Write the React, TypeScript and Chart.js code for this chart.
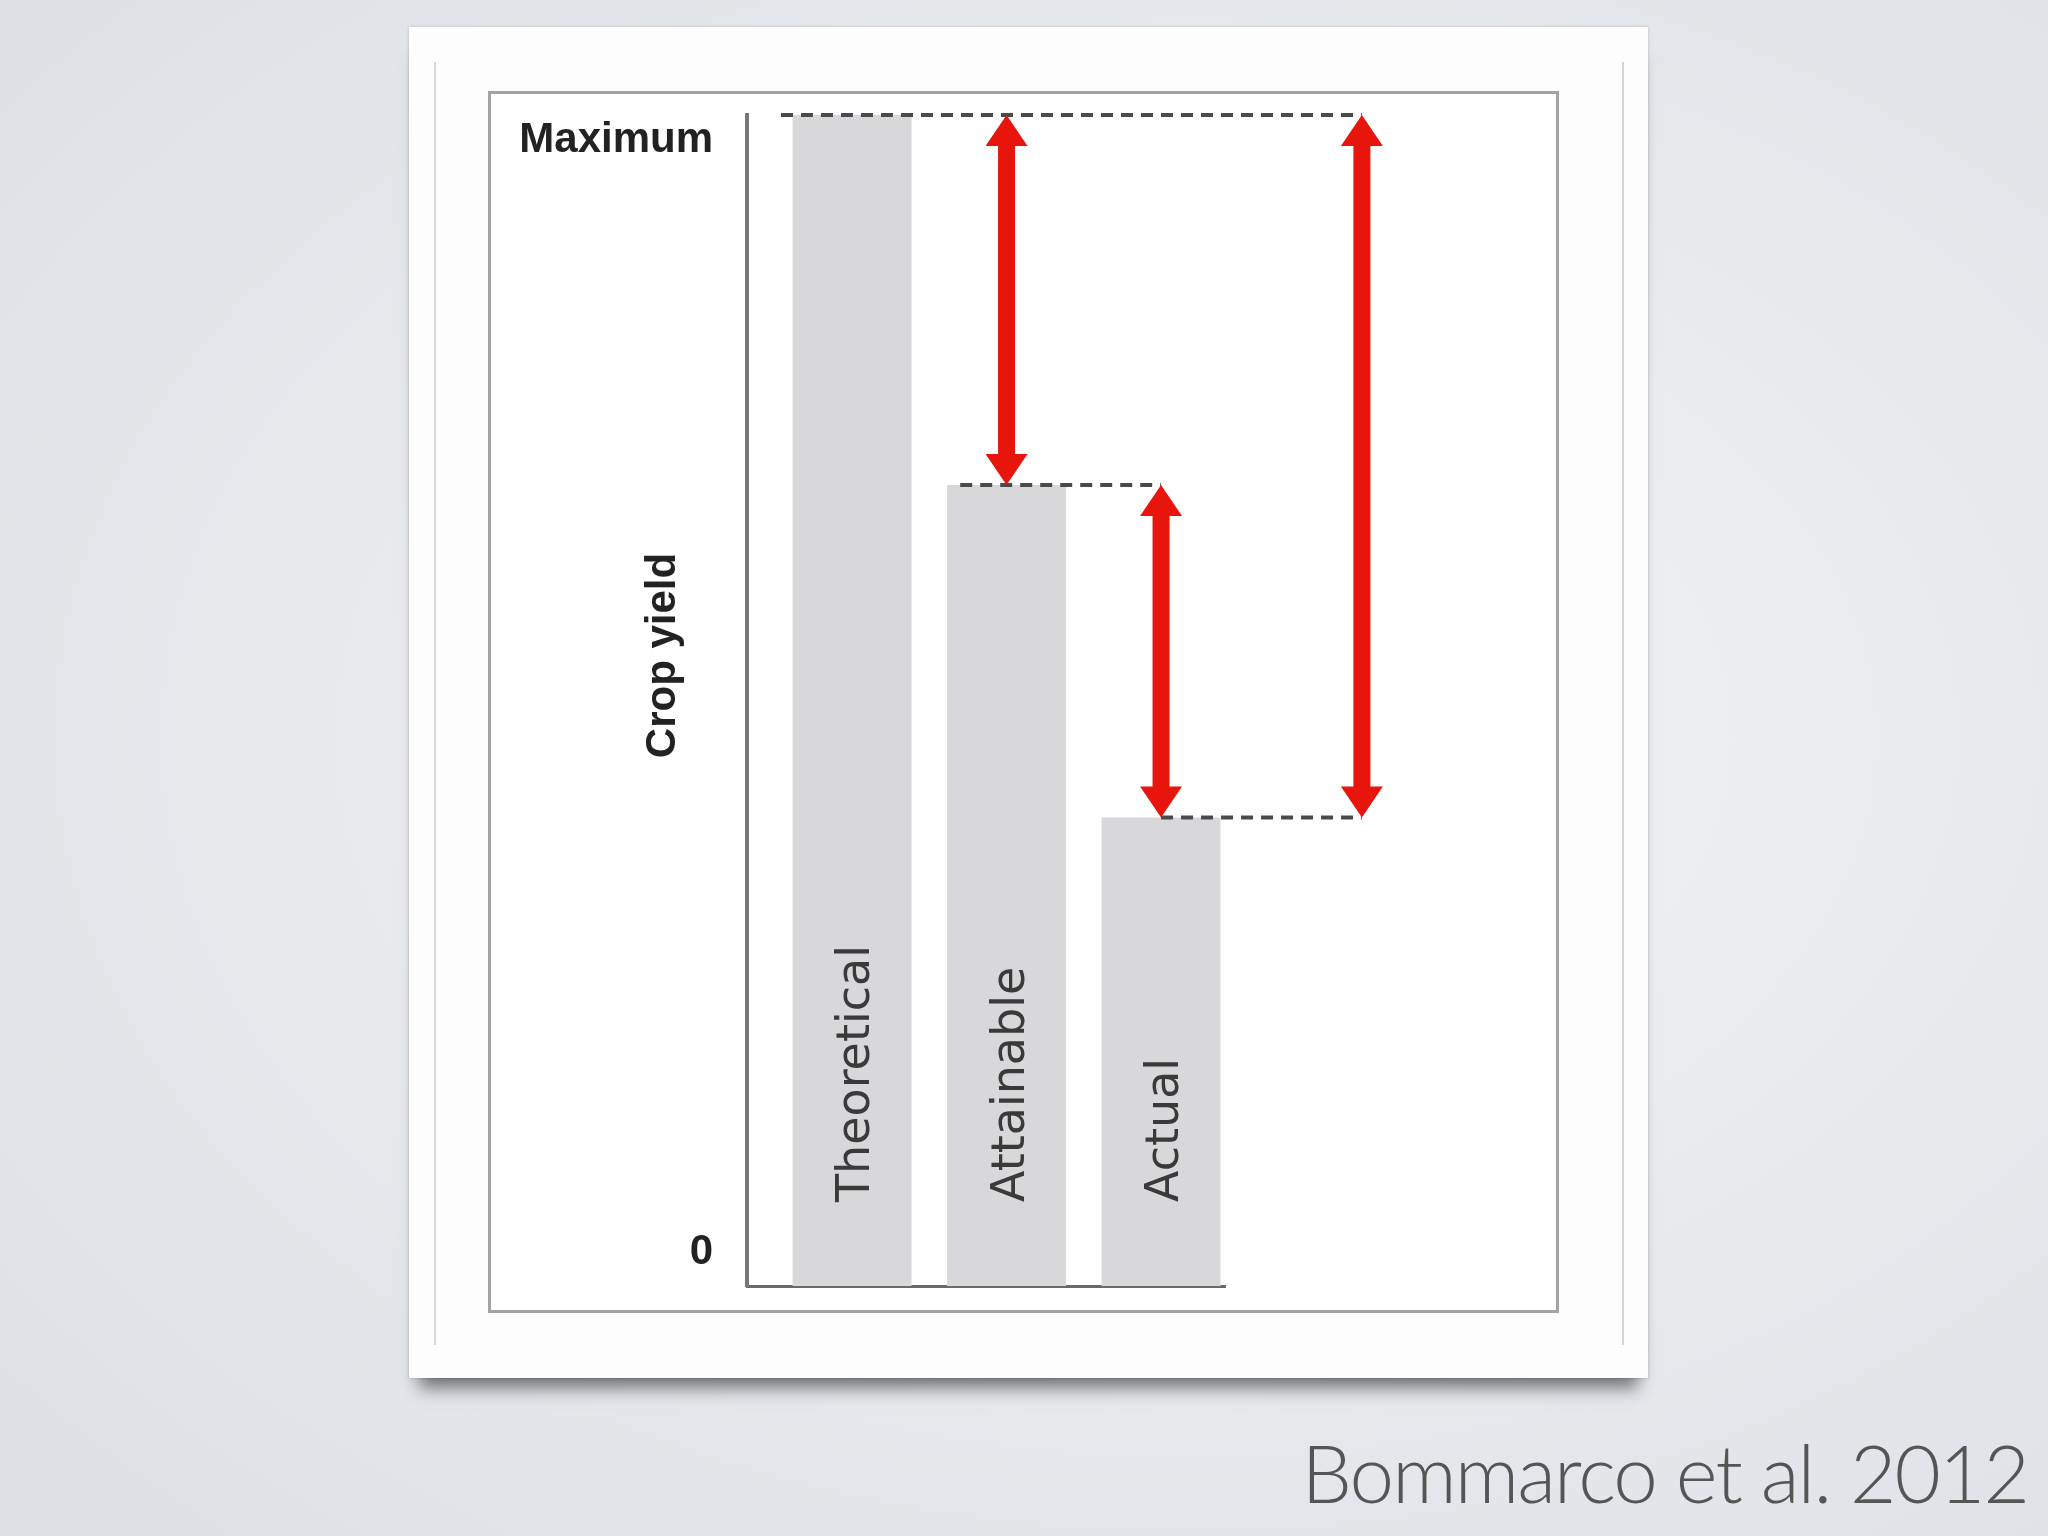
import React, { useEffect, useRef } from 'react';
import { Chart, registerables } from 'chart.js';

Chart.register(...registerables);

// ---- data ----
const categories = ['Theoretical', 'Attainable', 'Actual'];
const yields = [100, 68.4, 40];
const barX = [1, 2, 3];
// yield gaps: pairs of indices into yields (upper, lower)
const gapPairs: [number, number][] = [
  [0, 1],
  [1, 2],
  [0, 2],
];
const gapX = [2, 3, 4.3];
// dashed guide lines: which yield level, and x extents
const guideLevelIdx = [0, 1, 2];
const guideStart = [0.54, 1.7, 3.0];
const guideEnd = [4.3, 3.0, 4.3];
const yTickValues = [2.9, 97.8];
const yTickLabels = ['0', 'Maximum'];
const yTitle = 'Crop yield';
const sourceText = 'Bommarco et al. 2012';

const RED = '#e8150c';

function drawArrow(ctx: CanvasRenderingContext2D, x: number, y1: number, y2: number) {
  const shaft = 17;
  const headW = 42;
  const headL = 31;
  ctx.fillStyle = RED;
  ctx.fillRect(x - shaft / 2, y1 + headL - 1, shaft, y2 - y1 - 2 * headL + 2);
  ctx.beginPath();
  ctx.moveTo(x, y1);
  ctx.lineTo(x - headW / 2, y1 + headL);
  ctx.lineTo(x + headW / 2, y1 + headL);
  ctx.closePath();
  ctx.fill();
  ctx.beginPath();
  ctx.moveTo(x, y2);
  ctx.lineTo(x - headW / 2, y2 - headL);
  ctx.lineTo(x + headW / 2, y2 - headL);
  ctx.closePath();
  ctx.fill();
}

const overlayPlugin = {
  id: 'overlay',
  afterDatasetsDraw(chart: any) {
    const { ctx, chartArea, scales } = chart;
    const xs = scales.x;
    const ys = scales.y;
    ctx.save();
    gapPairs.forEach(([a, b], i) => {
      const px = xs.getPixelForValue(gapX[i]);
      const top = ys.getPixelForValue(yields[a]);
      const bot = ys.getPixelForValue(yields[b]);
      drawArrow(ctx, px, top, bot);
    });
    const meta = chart.getDatasetMeta(0);
    ctx.font = '46px "DejaVu Sans"';
    ctx.fillStyle = '#3a3a3a';
    ctx.textAlign = 'left';
    ctx.textBaseline = 'alphabetic';
    meta.data.forEach((el: any, i: number) => {
      ctx.save();
      ctx.translate(el.x + 17, el.base - 84);
      ctx.rotate(-Math.PI / 2);
      ctx.fillText(categories[i], 0, 0);
      ctx.restore();
    });
    ctx.font = 'bold 42px "Liberation Sans"';
    ctx.fillStyle = '#222';
    ctx.textAlign = 'center';
    ctx.textBaseline = 'middle';
    ctx.save();
    ctx.translate(chartArea.left - 84, (chartArea.top + chartArea.bottom) / 2 - 45);
    ctx.rotate(-Math.PI / 2);
    ctx.fillText(yTitle, 0, 0);
    ctx.restore();
    ctx.restore();
  },
};

function YieldChart() {
  const ref = useRef<HTMLCanvasElement>(null);
  useEffect(() => {
    if (!ref.current) return;
    const datasets: any[] = [
      {
        type: 'bar',
        data: barX.map((x, i) => ({ x, y: yields[i] })),
        backgroundColor: '#d8d8da',
        borderWidth: 0,
        barPercentage: 1,
        categoryPercentage: 0.77,
        order: 2,
      },
      ...guideLevelIdx.map((li, i) => ({
        type: 'line',
        data: [
          { x: guideStart[i], y: yields[li] },
          { x: guideEnd[i], y: yields[li] },
        ],
        borderColor: '#4a4a4a',
        borderWidth: 4,
        borderDash: [12, 8],
        pointRadius: 0,
        clip: false,
        order: 1,
      })),
    ];
    const chart = new Chart(ref.current, {
      type: 'bar',
      data: { datasets },
      plugins: [overlayPlugin],
      options: {
        responsive: false,
        animation: false,
        layout: { padding: { left: 0, top: 24, right: 334, bottom: 27 } },
        plugins: { legend: { display: false }, tooltip: { enabled: false } },
        scales: {
          x: {
            type: 'linear',
            offset: false,
            bounds: 'data',
            min: 0.32,
            max: 3.414,
            grid: { display: false },
            border: { display: true, color: '#6a6a6a', width: 3 },
            ticks: { display: false },
            afterBuildTicks: (s: any) => {
              s.ticks = barX.map((v) => ({ value: v }));
            },
            afterFit: (s: any) => {
              s.height = 0;
            },
          },
          y: {
            type: 'linear',
            min: 0,
            max: 100,
            grid: { display: false, drawTicks: false },
            border: { display: true, color: '#777', width: 4 },
            ticks: {
              padding: 34,
              color: '#222',
              autoSkip: false,
              font: { family: '"Liberation Sans"', weight: 'bold', size: 42 },
              callback: (_v: any, i: number) => yTickLabels[i],
            },
            afterBuildTicks: (s: any) => {
              s.ticks = yTickValues.map((v) => ({ value: v }));
            },
            afterFit: (s: any) => {
              s.width = 259;
              s.paddingTop = 0;
              s.paddingBottom = 0;
            },
          },
        },
      } as any,
    });
    return () => chart.destroy();
  }, []);
  return (
    <canvas
      ref={ref}
      width={1071}
      height={1222}
      style={{ position: 'absolute', left: 488, top: 91, width: 1071, height: 1222 }}
    />
  );
}

export default function App() {
  return (
    <div
      style={{
        position: 'absolute',
        left: 0,
        top: 0,
        width: 2048,
        height: 1536,
        overflow: 'hidden',
        background:
          'radial-gradient(ellipse 75% 70% at 58% 48%, #f1f2f4 0%, #eaecef 45%, #dde1e5 100%)',
      }}
    >
      <div
        style={{
          position: 'absolute',
          left: 409,
          top: 27,
          width: 1239,
          height: 1351,
          background: '#fdfdfd',
          boxShadow: '0 20px 16px -10px rgba(0,0,0,0.5), 0 0 3px rgba(0,0,0,0.2)',
        }}
      />
      <div style={{ position: 'absolute', left: 434, top: 62, width: 2, height: 1283, background: '#d6d6d6' }} />
      <div style={{ position: 'absolute', left: 1622, top: 62, width: 2, height: 1283, background: '#d6d6d6' }} />
      <div
        style={{
          position: 'absolute',
          left: 488,
          top: 91,
          width: 1071,
          height: 1222,
          boxSizing: 'border-box',
          border: '3px solid #a3a3a3',
          background: '#ffffff',
        }}
      />
      <YieldChart />
      <div
        style={{
          position: 'absolute',
          right: 20,
          top: 1432,
          fontFamily: 'Lato, "Open Sans", sans-serif',
          fontWeight: 300,
          fontSize: 80,
          lineHeight: '80px',
          letterSpacing: '-1.9px',
          color: '#555',
          whiteSpace: 'nowrap',
        }}
      >
        {sourceText}
      </div>
    </div>
  );
}
